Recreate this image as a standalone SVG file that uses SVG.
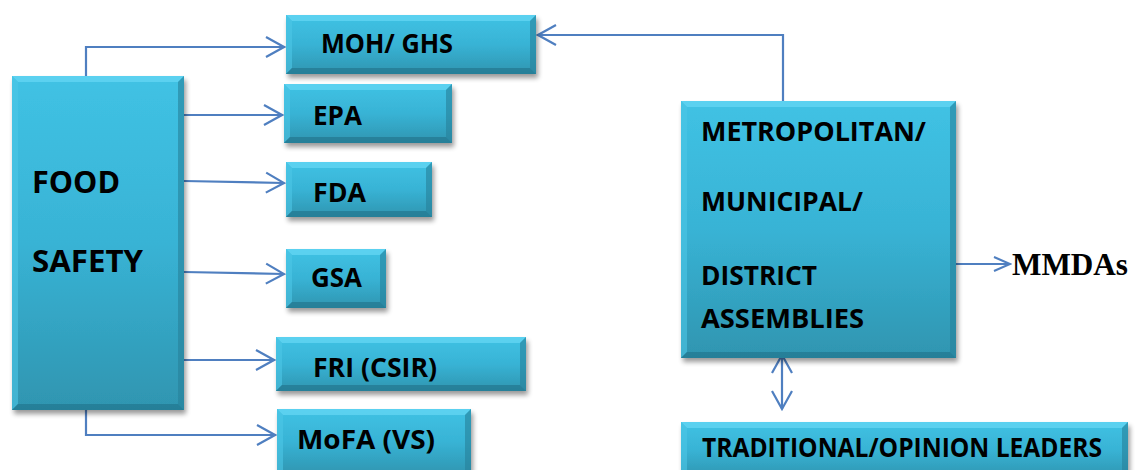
<svg xmlns="http://www.w3.org/2000/svg" width="1135" height="470" viewBox="0 0 1135 470">
<defs>
<linearGradient id="g" x1="0" y1="0" x2="0" y2="1">
<stop offset="0" stop-color="#40c2e4"/>
<stop offset="0.5" stop-color="#38b3d5"/>
<stop offset="1" stop-color="#2f95b0"/>
</linearGradient>
<filter id="sh" x="-10%" y="-10%" width="125%" height="130%">
<feGaussianBlur in="SourceAlpha" stdDeviation="2.5"/>
<feOffset dx="2" dy="4" result="b"/>
<feComponentTransfer><feFuncA type="linear" slope="0.4"/></feComponentTransfer>
<feMerge><feMergeNode/><feMergeNode in="SourceGraphic"/></feMerge>
</filter>
<marker id="ah" markerUnits="userSpaceOnUse" markerWidth="22" markerHeight="24" viewBox="0 0 22 24" refX="20" refY="12" orient="auto-start-reverse">
<path d="M2,2 L20,12 L2,22" fill="none" stroke="#4f7fc0" stroke-width="2.2"/>
</marker>
<marker id="ahs" markerUnits="userSpaceOnUse" markerWidth="20" markerHeight="18" viewBox="0 0 20 18" refX="18" refY="9" orient="auto">
<path d="M2,2 L18,9 L2,16" fill="none" stroke="#4f7fc0" stroke-width="2"/>
</marker>
</defs>
<style>
.box{fill:url(#g);filter:url(#sh)}
.bt{fill:#62d4f2;opacity:0.8}
.bl{fill:#4cc6e6;opacity:0.6}
.br{fill:#26809a;opacity:0.6}
.bb{fill:#22768e;opacity:0.7}
.t{font-family:"Open Sans","Noto Sans",sans-serif;font-weight:bold;font-size:27px;fill:#000}
.tl{font-size:31px}
.c{fill:none;stroke:#4f7fc0;stroke-width:2.2}
</style>

<g id="connectors">
<polyline class="c" points="86,76 86,47 284,47" marker-end="url(#ah)"/>
<line class="c" x1="184" y1="115" x2="282" y2="115" marker-end="url(#ah)"/>
<line class="c" x1="184" y1="181" x2="284" y2="183" marker-end="url(#ah)"/>
<line class="c" x1="184" y1="272" x2="284" y2="274" marker-end="url(#ah)"/>
<line class="c" x1="184" y1="360" x2="274" y2="360" marker-end="url(#ah)"/>
<polyline class="c" points="86,410 86,435 275,435" marker-end="url(#ah)"/>
<polyline class="c" points="783,101 783,35 538,35" marker-end="url(#ah)"/>
<line class="c" x1="956" y1="264" x2="1010" y2="264" marker-end="url(#ahs)"/>
<line class="c" x1="782" y1="355" x2="782" y2="409" marker-start="url(#ah)" marker-end="url(#ah)"/>
</g>

<g id="food-safety">
<rect class="box" x="12" y="76" width="172" height="334"/>
<polygon class="bt" points="12,76 184,76 178,82 18,82"/>
<polygon class="bl" points="12,76 18,82 18,404 12,410"/>
<polygon class="br" points="184,76 184,410 178,404 178,82"/>
<polygon class="bb" points="12,410 184,410 178,404 18,404"/>
<text class="t tl" x="32" y="193" textLength="88" lengthAdjust="spacingAndGlyphs">FOOD</text>
<text class="t tl" x="32" y="272" textLength="111" lengthAdjust="spacingAndGlyphs">SAFETY</text>
</g>

<g id="moh-ghs">
<rect class="box" x="286" y="15" width="250" height="59"/>
<polygon class="bt" points="286,15 536,15 530,21 292,21"/>
<polygon class="bl" points="286,15 292,21 292,68 286,74"/>
<polygon class="br" points="536,15 536,74 530,68 530,21"/>
<polygon class="bb" points="286,74 536,74 530,68 292,68"/>
<text class="t" x="321" y="53" textLength="132" lengthAdjust="spacingAndGlyphs">MOH/ GHS</text>
</g>

<g id="epa">
<rect class="box" x="284" y="84" width="168" height="59"/>
<polygon class="bt" points="284,84 452,84 446,90 290,90"/>
<polygon class="bl" points="284,84 290,90 290,137 284,143"/>
<polygon class="br" points="452,84 452,143 446,137 446,90"/>
<polygon class="bb" points="284,143 452,143 446,137 290,137"/>
<text class="t" x="313" y="125" textLength="49" lengthAdjust="spacingAndGlyphs">EPA</text>
</g>

<g id="fda">
<rect class="box" x="286" y="162" width="146" height="55"/>
<polygon class="bt" points="286,162 432,162 426,168 292,168"/>
<polygon class="bl" points="286,162 292,168 292,211 286,217"/>
<polygon class="br" points="432,162 432,217 426,211 426,168"/>
<polygon class="bb" points="286,217 432,217 426,211 292,211"/>
<text class="t" x="313" y="202" textLength="53" lengthAdjust="spacingAndGlyphs">FDA</text>
</g>

<g id="gsa">
<rect class="box" x="286" y="249" width="100" height="59"/>
<polygon class="bt" points="286,249 386,249 380,255 292,255"/>
<polygon class="bl" points="286,249 292,255 292,302 286,308"/>
<polygon class="br" points="386,249 386,308 380,302 380,255"/>
<polygon class="bb" points="286,308 386,308 380,302 292,302"/>
<text class="t" x="311" y="287" textLength="51" lengthAdjust="spacingAndGlyphs">GSA</text>
</g>

<g id="fri-csir">
<rect class="box" x="276" y="337" width="250" height="54"/>
<polygon class="bt" points="276,337 526,337 520,343 282,343"/>
<polygon class="bl" points="276,337 282,343 282,385 276,391"/>
<polygon class="br" points="526,337 526,391 520,385 520,343"/>
<polygon class="bb" points="276,391 526,391 520,385 282,385"/>
<text class="t" x="313" y="377" textLength="124" lengthAdjust="spacingAndGlyphs">FRI (CSIR)</text>
</g>

<g id="mofa-vs">
<rect class="box" x="277" y="409" width="194" height="66"/>
<polygon class="bt" points="277,409 471,409 465,415 283,415"/>
<polygon class="bl" points="277,409 283,415 283,475 277,475"/>
<polygon class="br" points="471,409 471,475 465,475 465,415"/>
<text class="t" x="297" y="449" textLength="138" lengthAdjust="spacingAndGlyphs">MoFA (VS)</text>
</g>

<g id="mmda-box">
<rect class="box" x="681" y="101" width="275" height="257"/>
<polygon class="bt" points="681,101 956,101 950,107 687,107"/>
<polygon class="bl" points="681,101 687,107 687,352 681,358"/>
<polygon class="br" points="956,101 956,358 950,352 950,107"/>
<polygon class="bb" points="681,358 956,358 950,352 687,352"/>
<text class="t" x="701" y="141" textLength="225" lengthAdjust="spacingAndGlyphs">METROPOLITAN/</text>
<text class="t" x="701" y="211" textLength="162" lengthAdjust="spacingAndGlyphs">MUNICIPAL/</text>
<text class="t" x="701" y="285" textLength="116" lengthAdjust="spacingAndGlyphs">DISTRICT</text>
<text class="t" x="701" y="328" textLength="163" lengthAdjust="spacingAndGlyphs">ASSEMBLIES</text>
</g>

<g id="mmdas-label">
<text x="1012" y="275" textLength="116" lengthAdjust="spacingAndGlyphs" style="font-family:'Liberation Serif',serif;font-weight:bold;font-size:31px;fill:#000">MMDAs</text>
</g>

<g id="traditional">
<rect class="box" x="681" y="422" width="447" height="56"/>
<polygon class="bt" points="681,422 1128,422 1122,428 687,428"/>
<polygon class="bl" points="681,422 687,428 687,478 681,478"/>
<polygon class="br" points="1128,422 1128,478 1122,478 1122,428"/>
<text class="t" x="702" y="457" textLength="400" lengthAdjust="spacingAndGlyphs">TRADITIONAL/OPINION LEADERS</text>
</g>
</svg>
